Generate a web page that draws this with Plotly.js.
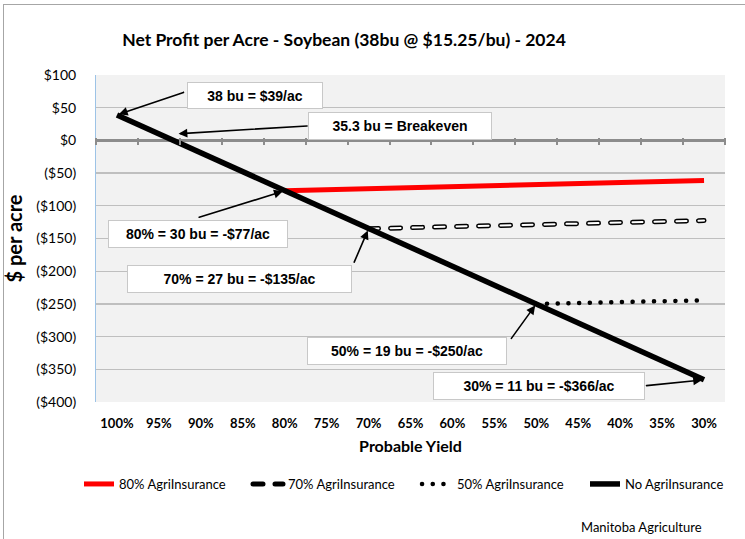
<!DOCTYPE html>
<html>
<head>
<meta charset="utf-8">
<script src="https://cdn.plot.ly/plotly-3.0.1.min.js"></script>
<style>
  html, body { margin: 0; padding: 0; background: #ffffff; }
  #chart { width: 745px; height: 539px; position: absolute; left: 0; top: 0; }
  #frame { position: absolute; left: 3px; top: 4px; width: 900px; height: 700px;
           border-left: 1px solid #a6a6a6; border-top: 1px solid #a6a6a6; pointer-events: none; }
</style>
</head>
<body>
<div id="chart"></div>
<div id="frame"></div>
<script>
// ---- data ----
const categories = ['100%','95%','90%','85%','80%','75%','70%','65%','60%','55%','50%','45%','40%','35%','30%'];
const noInsurance = [39, 10, -19, -48, -77, -106, -135, -164, -193, -222, -250, -280, -309, -338, -366];
const ins80 = [null, null, null, null, -77, -75.5, -74, -72.5, -71, -69.5, -68, -66.5, -65, -63, -61.5];
const ins70 = [null, null, null, null, null, null, -135, -133.5, -132, -130.5, -129, -127.5, -126, -124, -122.5];
const ins50 = [null, null, null, null, null, null, null, null, null, null, -250, -249, -247.5, -246, -244.5];
const seriesNames = ['80% AgriInsurance', '70% AgriInsurance', '50% AgriInsurance', 'No AgriInsurance'];
const yTickVals = [100, 50, 0, -50, -100, -150, -200, -250, -300, -350, -400];
const yTickText = ['$100', '$50', '$0', '($50)', '($100)', '($150)', '($200)', '($250)', '($300)', '($350)', '($400)'];
const breakevenBu = 35.3, fullBu = 38;
const callouts = ['38 bu = $39/ac', '35.3 bu = Breakeven', '80% = 30 bu = -$77/ac',
                  '70% = 27 bu = -$135/ac', '50% = 19 bu = -$250/ac', '30% = 11 bu = -$366/ac'];

// ---- layout geometry ----
const W = 745, H = 539;
const M = { l: 96, r: 20, t: 75, b: 137 };
const PW = W - M.l - M.r, PH = H - M.t - M.b;
const CALIBRI = 'Lato, "Open Sans", sans-serif';
const ARIAL = '"Liberation Sans", Arial, sans-serif';

const traces = [
  { x: categories, y: ins80, name: seriesNames[0], type: 'scatter', mode: 'lines', legend: 'legend',
    line: { color: '#ff0000', width: 5 }, hoverinfo: 'skip' },
  { x: categories, y: ins70, name: seriesNames[1], type: 'scatter', mode: 'lines', legend: 'legend2',
    line: { color: '#000000', width: 5, dash: '10px,12px' }, hoverinfo: 'skip' },
  { x: categories, y: ins70, name: seriesNames[1], type: 'scatter', mode: 'lines', showlegend: false,
    line: { color: '#ffffff', width: 2, dash: '10px,12px' }, hoverinfo: 'skip' },
  { x: categories, y: ins50, name: seriesNames[2], type: 'scatter', mode: 'lines', legend: 'legend3',
    line: { color: '#000000', width: 4.5, dash: '0.1px,10.6px' }, hoverinfo: 'skip' },
  { x: categories, y: noInsurance, name: seriesNames[3], type: 'scatter', mode: 'lines', legend: 'legend4',
    line: { color: '#000000', width: 5.5 }, hoverinfo: 'skip' },
  { x: categories, y: noInsurance, xaxis: 'x2', type: 'scatter', mode: 'lines', showlegend: false,
    line: { color: 'rgba(0,0,0,0)', width: 0 }, hoverinfo: 'skip' }
];

const zeroFrac = (0 - yTickVals[yTickVals.length - 1]) / (yTickVals[0] - yTickVals[yTickVals.length - 1]);

function pxToCat(px) { return (px - M.l) / (PW / categories.length) - 0.5; }
function pyToVal(py) { return yTickVals[0] - (py - M.t) / PH * (yTickVals[0] - yTickVals[yTickVals.length - 1]); }

const boxes = [
  { cx: 255, cy: 95.5, w: 136, h: 27 },
  { cx: 400, cy: 126, w: 184, h: 28 },
  { cx: 198, cy: 234, w: 180, h: 28 },
  { cx: 239.5, cy: 279, w: 225, h: 28 },
  { cx: 407, cy: 351, w: 200, h: 28 },
  { cx: 539, cy: 386, w: 212, h: 28 }
];

const annotations = [];
boxes.forEach((b, i) => {
  annotations.push({
    x: pxToCat(b.cx), y: pyToVal(b.cy), xref: 'x', yref: 'y',
    text: '<b>' + callouts[i] + '</b>', showarrow: false,
    font: { family: ARIAL, size: 14, color: '#000000' },
    bgcolor: '#ffffff', bordercolor: '#c8c8c8', borderwidth: 1, borderpad: 1,
    width: b.w - 4, height: b.h - 4, xanchor: 'center', yanchor: 'middle', align: 'center'
  });
});

// arrows: head at data points, tail offsets in px
const breakevenPos = (1 - breakevenBu / fullBu) / 0.05;
const arrows = [
  { x: 0, y: noInsurance[0], ax: 68, ay: -23 },
  { x: breakevenPos, y: 10, ax: 132, ay: -8 },
  { x: 4, y: ins80[4], ax: -87, ay: 27 },
  { x: 6, y: ins70[6], ax: -15, ay: 35 },
  { x: 10, y: ins50[10], ax: -26, ay: 36 },
  { x: 14, y: noInsurance[14], ax: -59, ay: 6 }
];
arrows.forEach(a => {
  annotations.push({
    x: a.x, y: a.y, xref: 'x', yref: 'y', ax: a.ax, ay: a.ay, axref: 'pixel', ayref: 'pixel',
    text: '', showarrow: true, arrowhead: 2, arrowsize: 1.1, arrowwidth: 1.6, arrowcolor: '#000000',
    standoff: 2
  });
});

annotations.push({
  x: (641 - M.l) / PW, y: (H - M.b - 527) / PH, xref: 'paper', yref: 'paper',
  text: 'Manitoba Agriculture', showarrow: false, xanchor: 'center', yanchor: 'middle',
  font: { family: CALIBRI, size: 13, color: '#000000' }
});

function legendAt(px) {
  return {
    orientation: 'h', xref: 'container', x: px / W, xanchor: 'left',
    yref: 'container', y: 1 - 484 / H, yanchor: 'middle',
    font: { family: CALIBRI, size: 13, color: '#000000' },
    bgcolor: 'rgba(0,0,0,0)', itemclick: false, itemdoubleclick: false
  };
}

const layout = {
  width: W, height: H,
  margin: M,
  paper_bgcolor: '#ffffff', plot_bgcolor: '#f2f2f2',
  font: { family: CALIBRI, color: '#000000' },
  title: {
    text: '<b>Net Profit per Acre - Soybean (38bu @ $15.25/bu) - 2024</b>',
    font: { family: CALIBRI, size: 17.5, color: '#000000' },
    xref: 'container', x: 344 / W, xanchor: 'center',
    yref: 'container', y: 1 - 40 / H, yanchor: 'middle'
  },
  xaxis: {
    type: 'category', categoryorder: 'array', categoryarray: categories,
    range: [-0.5, categories.length - 0.5],
    showgrid: false, zeroline: false, showline: false, ticks: '',
    tickfont: { family: CALIBRI, size: 13, color: '#000000', weight: 'bold' },
    ticklabelstandoff: 12,
    title: { text: '<b>Probable Yield</b>', font: { family: CALIBRI, size: 16, color: '#000000' }, standoff: 10 },
    automargin: false, fixedrange: true
  },
  xaxis2: {
    type: 'category', categoryorder: 'array', categoryarray: categories,
    range: [-0.5, categories.length - 0.5],
    overlaying: 'x', anchor: 'free', position: zeroFrac + 3.5 / PH, side: 'bottom',
    showgrid: false, zeroline: false, showline: false, showticklabels: false,
    ticks: 'outside', ticklen: 7, tickwidth: 2, tickcolor: '#8c8c8c', tickson: 'boundaries',
    automargin: false, fixedrange: true
  },
  yaxis: {
    range: [yTickVals[yTickVals.length - 1], yTickVals[0]],
    tickmode: 'array', tickvals: yTickVals, ticktext: yTickText,
    tickfont: { family: CALIBRI, size: 14, color: '#000000' },
    ticklabelstandoff: 16,
    showgrid: true, gridcolor: '#bfbfbf', gridwidth: 1.3,
    zeroline: true, zerolinecolor: '#8c8c8c', zerolinewidth: 3,
    showline: true, linecolor: '#9dc3e6', linewidth: 1, ticks: '',
    title: { text: '<b>$ per acre</b>', font: { family: CALIBRI, size: 20, color: '#000000' }, standoff: 8 },
    automargin: false, fixedrange: true
  },
  showlegend: true,
  legend: legendAt(79),
  legend2: legendAt(248),
  legend3: legendAt(417),
  legend4: legendAt(585),
  annotations: annotations
};

Plotly.newPlot('chart', traces, layout, { displayModeBar: false, staticPlot: true }).then(gd => {
  // round caps for the dashed / dotted series and their legend symbols (Excel-style)
  gd.querySelectorAll('path').forEach(p => {
    const d = p.style.strokeDasharray;
    if (d && d !== 'none') p.style.strokeLinecap = 'round';
  });
});
</script>
</body>
</html>
